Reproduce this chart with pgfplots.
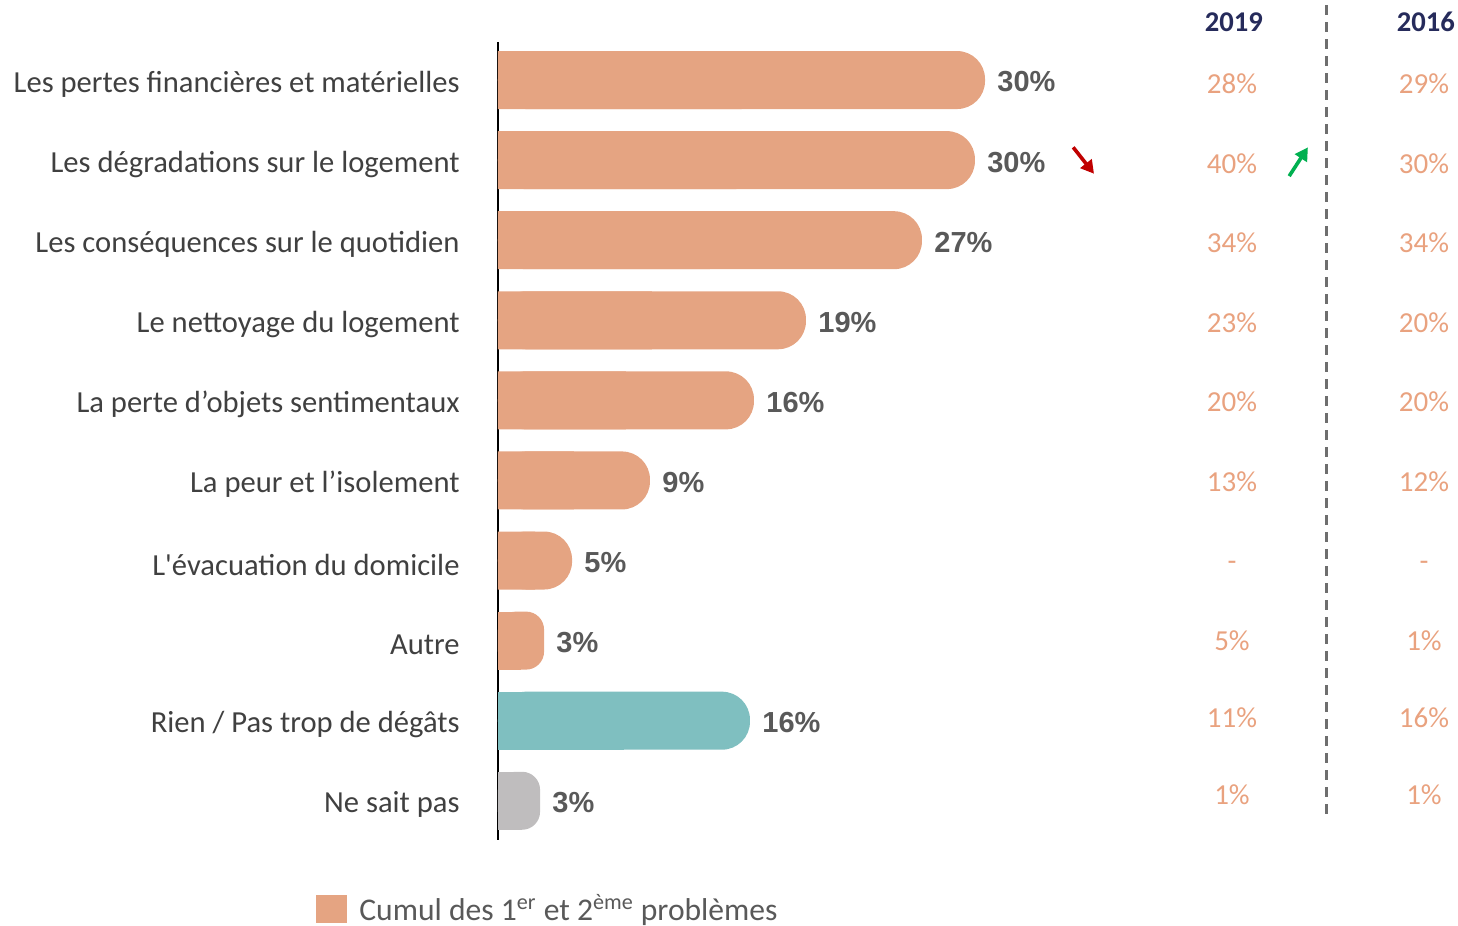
\documentclass[border=0pt]{standalone}
\usepackage{fontspec}
\setmainfont{Carlito}[Ligatures=TeXOff]
\newfontfamily\arialfont{Liberation Sans}
\usepackage{pgfplots}
\usepackage{pgfplotstable}
\pgfplotsset{compat=1.18}
\usetikzlibrary{arrows.meta}

\definecolor{salmon}{HTML}{E5A482}
\definecolor{tealbar}{HTML}{7FBFC0}
\definecolor{greybar}{HTML}{BFBDBE}
\definecolor{valgray}{HTML}{595959}
\definecolor{labgray}{HTML}{404040}
\definecolor{coltext}{HTML}{E9A27F}
\definecolor{navy}{HTML}{262B5B}
\definecolor{dashgray}{HTML}{6E6E6E}
\definecolor{arrred}{HTML}{C00000}
\definecolor{arrgreen}{HTML}{00B050}

% main bars (bar length, printed label)
\pgfplotstableread{
y v lab
0 30.44 30
1 29.81 30
2 26.50 27
3 19.25 19
4 16.00 16
5 9.50 9
6 4.63 5
}\salmonbig
\pgfplotstableread{
y v lab
7 2.88 3
}\salmonsmall
\pgfplotstableread{
y v lab
8 15.75 16
}\tealdata
\pgfplotstableread{
y v lab
9 2.63 3
}\greydata

% 2019 and 2016 columns
\pgfplotstableread{
x y lab
45.875 0.04 28\%
45.875 1.04 40\%
45.875 2.03 34\%
45.875 3.03 23\%
45.875 4.02 20\%
45.875 5.02 13\%
45.875 6.07 -
45.875 7.00 5\%
45.875 7.96 11\%
45.875 8.93 1\%
}\colA
\pgfplotstableread{
x y lab
57.875 0.04 29\%
57.875 1.04 30\%
57.875 2.03 34\%
57.875 3.03 20\%
57.875 4.02 20\%
57.875 5.02 12\%
57.875 6.07 -
57.875 7.00 1\%
57.875 7.96 16\%
57.875 8.93 1\%
}\colB

\begin{document}
\begin{tikzpicture}
\useasboundingbox (-249pt,-43pt) rectangle (480pt,420pt);
\begin{axis}[
  at={(0pt,0pt)}, anchor=south west,
  scale only axis, width=480pt, height=399pt,
  xmin=0, xmax=60, ymin=-0.475, ymax=9.49, y dir=reverse,
  clip=false,
  axis x line=none, axis y line*=left,
  axis line style={black, line width=0.75pt},
  ytick={0,...,9},
  yticklabels={Les pertes financières et matérielles, Les dégradations sur le logement, Les conséquences sur le quotidien, Le nettoyage du logement, La perte d’objets sentimentaux, La peur et l’isolement, L'évacuation du domicile, Autre, Rien / Pas trop de dégâts, Ne sait pas},
  major tick length=0pt,
  yticklabel shift=19pt,
  yticklabel style={inner sep=0pt, anchor=east, yshift=-2pt, font=\fontsize{15.3}{18}\selectfont, text=labgray},
  legend style={draw=none, fill=none, at={(-0.1896,-0.0865)}, anchor=west, inner sep=0pt,
    font=\fontsize{15.8}{19}\selectfont, text=valgray,
    nodes={inner sep=0pt},
    /tikz/every odd column/.append style={column sep=6pt}},
  legend image code/.code={\fill[salmon, sharp corners] (0pt,-7pt) rectangle (15.5pt,7pt);},
  barlab/.style={point meta=explicit symbolic,
    nodes near coords={\pgfplotspointmeta\%},
    nodes near coords style={anchor=west, inner sep=0pt, xshift=6pt, yshift=-1pt,
      font=\arialfont\bfseries\fontsize{14.5}{17}\selectfont, text=valgray}},
  collab/.style={draw=none, mark=none, forget plot, point meta=explicit symbolic,
    nodes near coords={\pgfplotspointmeta},
    nodes near coords style={anchor=center, inner sep=0pt,
      font=\fontsize{14.5}{17}\selectfont, text=coltext}},
]
% bars with rounded right end
\addplot[xbar, bar width=29pt, bar shift=0pt, fill=salmon, draw=none, rounded corners=14pt, barlab]
  table[x=v, y=y, meta=lab]{\salmonbig};
\addlegendentry{Cumul des 1\textsuperscript{er} et 2\textsuperscript{ème} problèmes}
\addplot[xbar, bar width=29pt, bar shift=0pt, fill=salmon, draw=none, forget plot]
  table[x expr=\thisrow{v}/2, y=y]{\salmonbig};
\addplot[xbar, bar width=29pt, bar shift=0pt, fill=salmon, draw=none, rounded corners=9pt, barlab, forget plot]
  table[x=v, y=y, meta=lab]{\salmonsmall};
\addplot[xbar, bar width=29pt, bar shift=0pt, fill=salmon, draw=none, forget plot]
  table[x expr=\thisrow{v}/2, y=y]{\salmonsmall};
\addplot[xbar, bar width=29pt, bar shift=0pt, fill=tealbar, draw=none, rounded corners=14pt, barlab, forget plot]
  table[x=v, y=y, meta=lab]{\tealdata};
\addplot[xbar, bar width=29pt, bar shift=0pt, fill=tealbar, draw=none, forget plot]
  table[x expr=\thisrow{v}/2, y=y]{\tealdata};
\addplot[xbar, bar width=29pt, bar shift=0pt, fill=greybar, draw=none, rounded corners=9pt, barlab, forget plot]
  table[x=v, y=y, meta=lab]{\greydata};
\addplot[xbar, bar width=29pt, bar shift=0pt, fill=greybar, draw=none, forget plot]
  table[x expr=\thisrow{v}/2, y=y]{\greydata};
% comparison columns
\addplot[collab] table[x=x, y=y, meta=lab]{\colA};
\addplot[collab] table[x=x, y=y, meta=lab]{\colB};
% headers
\node[font=\bfseries\fontsize{14.3}{17}\selectfont, text=navy] at (axis cs:45.99,-0.724) {2019};
\node[font=\bfseries\fontsize{14.3}{17}\selectfont, text=navy] at (axis cs:58.0,-0.724) {2016};
% separator
\draw[dashgray, line width=1.5pt, dash pattern=on 5pt off 3.5pt] (axis cs:51.81,-0.936) -- (axis cs:51.81,9.21);
% arrows
\draw[arrred, line width=1.8pt, -{Triangle[length=6.5pt,width=7pt]}] (axis cs:35.95,0.84) -- (axis cs:37.25,1.17);
\draw[arrgreen, line width=1.8pt, -{Triangle[length=6.5pt,width=7pt]}] (axis cs:49.45,1.2) -- (axis cs:50.62,0.84);
\end{axis}
\end{tikzpicture}
\end{document}
